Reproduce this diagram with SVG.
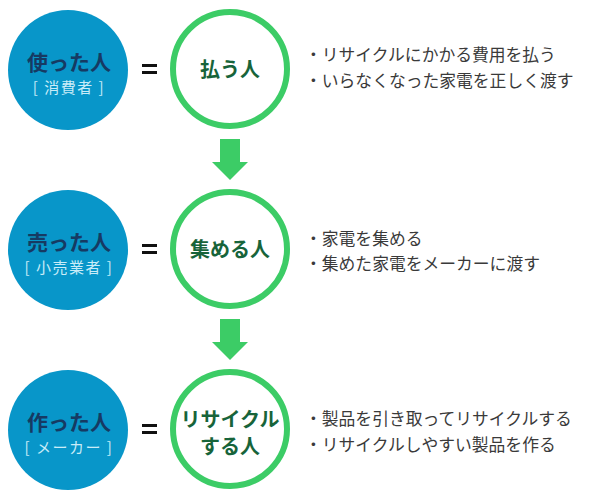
<svg xmlns="http://www.w3.org/2000/svg" width="600" height="500" viewBox="0 0 600 500">
<style>
.blue{fill:#0896c9}
.ring{fill:#fff;stroke:#3ccc66;stroke-width:6}
.main{font-family:"Noto Sans CJK JP","Noto Sans",sans-serif;font-weight:bold;font-size:21px;fill:#163a63;text-anchor:middle}
.sub{font-family:"Noto Sans CJK JP","Noto Sans",sans-serif;font-size:15px;letter-spacing:1.5px;fill:#c9ecf8;text-anchor:middle}
.role{font-family:"Noto Sans CJK JP","Noto Sans",sans-serif;font-weight:bold;font-size:20px;fill:#17643a;text-anchor:middle}
.desc{font-family:"Noto Sans CJK JP","Noto Sans",sans-serif;font-size:16.8px;fill:#3a3a3a}
.eq{fill:#111}
.arrow{fill:#3ccc66}
</style>
<defs>
<g id="equals"><rect x="142" y="-5" width="15" height="3" class="eq"/><rect x="142" y="2" width="15" height="3" class="eq"/></g>
</defs>
<g id="user">
<circle cx="68" cy="70" r="60" class="blue"/>
<text x="69" y="70" class="main">使った人</text>
<text x="69" y="93" class="sub">[ 消費者 ]</text>
</g>
<g id="payer">
<circle cx="230" cy="69" r="57" class="ring"/>
<text x="230" y="77" class="role">払う人</text>
</g>
<use href="#equals" y="69"/>
<g id="desc1">
<text x="305" y="61" class="desc">・リサイクルにかかる費用を払う</text>
<text x="305" y="87" class="desc">・いらなくなった家電を正しく渡す</text>
</g>
<g id="seller">
<circle cx="68" cy="250" r="60" class="blue"/>
<text x="69" y="250" class="main">売った人</text>
<text x="69" y="273" class="sub">[ 小売業者 ]</text>
</g>
<g id="collector">
<circle cx="230" cy="249" r="57" class="ring"/>
<text x="230" y="257" class="role">集める人</text>
</g>
<use href="#equals" y="249"/>
<g id="desc2">
<text x="305" y="245" class="desc">・家電を集める</text>
<text x="305" y="270" class="desc">・集めた家電をメーカーに渡す</text>
</g>
<g id="maker">
<circle cx="68" cy="430" r="60" class="blue"/>
<text x="69" y="430" class="main">作った人</text>
<text x="69" y="453" class="sub">[ メーカー ]</text>
</g>
<g id="recycler">
<circle cx="230" cy="429" r="57" class="ring"/>
<text x="230" y="427" class="role">リサイクル</text>
<text x="230" y="454" class="role">する人</text>
</g>
<use href="#equals" y="429"/>
<g id="desc3">
<text x="305" y="425" class="desc">・製品を引き取ってリサイクルする</text>
<text x="305" y="451" class="desc">・リサイクルしやすい製品を作る</text>
</g>
<g id="connectors">
<polygon class="arrow" points="220,139 240,139 240,162 248,162 230,180 212,162 220,162"/>
<polygon class="arrow" points="220,319 240,319 240,342 248,342 230,360 212,342 220,342"/>
</g>
</svg>
